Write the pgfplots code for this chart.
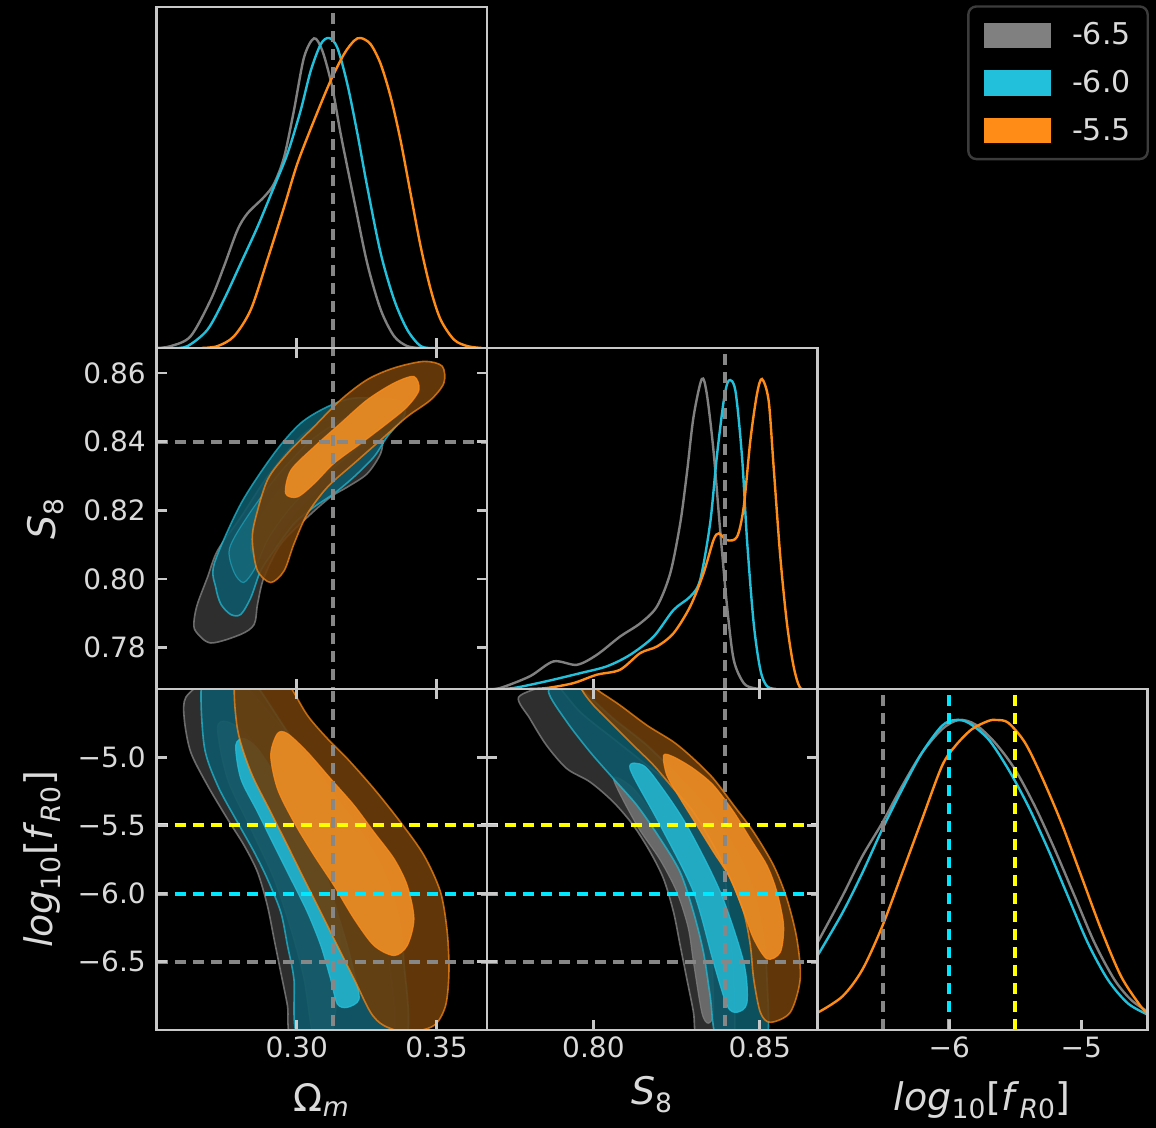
\documentclass[border=0pt]{standalone}
\usepackage{fontspec}
\setmainfont{DejaVu Sans}
\usepackage{pgfplots}
\pgfplotsset{compat=1.18}
\definecolor{cgray}{RGB}{128,128,128}
\definecolor{ccyan}{RGB}{34,192,218}
\definecolor{corange}{RGB}{255,140,22}
\definecolor{gOutF}{RGB}{52,52,52}
\definecolor{gInF}{RGB}{112,112,112}
\definecolor{cOutF}{RGB}{14,88,104}
\definecolor{cInF}{RGB}{36,180,206}
\definecolor{oOutF}{RGB}{108,62,12}
\definecolor{oInF}{RGB}{238,142,36}
\definecolor{framec}{RGB}{200,200,200}
\definecolor{lbl}{RGB}{218,218,218}
\definecolor{dcyan}{RGB}{0,232,255}
\definecolor{dyellow}{RGB}{255,255,0}
\definecolor{dgray}{RGB}{135,135,135}
\definecolor{legedge}{RGB}{60,60,60}

\pgfplotsset{
  corner/.style={
    scale only axis, width=165.1pt, height=170.5pt, anchor=south west,
    axis on top,
    axis line style={framec, line width=1.4pt},
    tick style={framec, line width=1.4pt},
    tick align=inside, major tick length=5pt,
    ticklabel style={font=\fontsize{14}{16}\selectfont, text=lbl},
    yticklabel style={xshift=-2pt},
    label style={font=\fontsize{19}{22}\selectfont, text=lbl},
  },
  oneD/.style={corner, ymin=0, ymax=1.1, ytick=\empty, xtick pos=left},
  omx/.style={xmin=0.25, xmax=0.368, xtick={0.30,0.35}},
  s8x/.style={xmin=0.768, xmax=0.8673, xtick={0.80,0.85}},
  s8y/.style={ymin=0.768, ymax=0.8673, ytick={0.78,0.80,0.82,0.84,0.86}},
  fry/.style={ymin=-7, ymax=-4.5, ytick={-6.5,-6,-5.5,-5}},
  frx/.style={xmin=-7, xmax=-4.5, xtick={-6,-5}},
  gOut/.style={smooth cycle, fill=gOutF, fill opacity=0.9, draw=cgray, draw opacity=0.8, line width=0.8pt},
  gIn/.style={smooth cycle, fill=gInF, fill opacity=0.9, draw=cgray, draw opacity=0.8, line width=0.6pt},
  cOut/.style={smooth cycle, fill=cOutF, fill opacity=0.9, draw=ccyan, draw opacity=0.7, line width=0.8pt},
  cIn/.style={smooth cycle, fill=cInF, fill opacity=0.9, draw=ccyan, draw opacity=0.8, line width=0.6pt},
  oOut/.style={smooth cycle, fill=oOutF, fill opacity=0.9, draw=corange, draw opacity=0.7, line width=0.8pt},
  oIn/.style={smooth cycle, fill=oInF, fill opacity=0.9, draw=corange, draw opacity=0.8, line width=0.6pt},
  dashl/.style={line width=2pt, dash pattern=on 5.5pt off 3.5pt},
  dens/.style={smooth, line width=1.2pt},
}

\begin{document}
\begin{tikzpicture}
\fill[black] (0,0) rectangle (578pt,564pt);

% ---------- P11 : Omega_m 1D ----------
\begin{axis}[corner, oneD, omx, xticklabels={}, at={(78.4pt,390pt)},
  legend style={at={(axis description cs:3.0045,1.005)}, anchor=north east,
    fill=black, draw=legedge, line width=1.2pt, rounded corners=4pt,
    text=lbl, font=\fontsize{15}{18}\selectfont,
    inner xsep=6.5pt, inner ysep=6pt, row sep=7.3pt,
    /tikz/every odd column/.append style={column sep=7.2pt}},
  legend cell align=left,
  legend image code/.code={\fill[#1, sharp corners] (0pt,-6.9pt) rectangle (35pt,6.9pt);}]
\addlegendimage{fill=cgray}\addlegendentry{-6.5}
\addlegendimage{fill=ccyan}\addlegendentry{-6.0}
\addlegendimage{fill=corange}\addlegendentry{-5.5}
\addplot[dens, cgray] coordinates {(0.2500,0.000) (0.2550,0.006) (0.2621,0.038) (0.2693,0.156) (0.2740,0.263) (0.2788,0.380) (0.2824,0.434) (0.2883,0.487) (0.2919,0.530) (0.2955,0.616) (0.2990,0.766) (0.3026,0.937) (0.3062,0.999) (0.3092,0.958) (0.3127,0.841) (0.3157,0.691) (0.3205,0.477) (0.3252,0.273) (0.3300,0.124) (0.3348,0.038) (0.3395,0.006) (0.3440,0.000)};
\addplot[dens, ccyan] coordinates {(0.2560,0.000) (0.2610,0.006) (0.2681,0.059) (0.2740,0.156) (0.2800,0.273) (0.2860,0.391) (0.2919,0.520) (0.2967,0.627) (0.3014,0.766) (0.3050,0.894) (0.3086,0.980) (0.3115,1.000) (0.3145,0.969) (0.3181,0.851) (0.3217,0.691) (0.3252,0.520) (0.3300,0.306) (0.3348,0.156) (0.3395,0.059) (0.3443,0.006) (0.3490,0.000)};
\addplot[dens, corange] coordinates {(0.2660,0.000) (0.2717,0.006) (0.2776,0.038) (0.2836,0.124) (0.2895,0.284) (0.2955,0.455) (0.3002,0.594) (0.3062,0.734) (0.3121,0.862) (0.3169,0.948) (0.3205,0.991) (0.3229,1.000) (0.3264,0.980) (0.3300,0.916) (0.3336,0.809) (0.3371,0.670) (0.3407,0.498) (0.3443,0.327) (0.3479,0.188) (0.3514,0.092) (0.3562,0.027) (0.3610,0.006) (0.3660,0.000)};
\addplot[dgray, dashl] coordinates {(0.3131,0) (0.3131,1.1)};
\end{axis}

% ---------- P21 : Omega_m vs S8 ----------
\begin{axis}[corner, omx, s8y, xticklabels={}, yticklabels={0.78,0.80,0.82,0.84,0.86},
  at={(78.4pt,219.5pt)},
  ylabel={\textit{S}\textsubscript{8}}, ylabel style={at={(axis description cs:-0.338,0.5)}, anchor=center}]
\addplot[gOut] coordinates {(0.2633,0.7878) (0.2645,0.7927) (0.2681,0.8005) (0.2717,0.8083) (0.2800,0.8180) (0.2895,0.8298) (0.3014,0.8415) (0.3110,0.8463) (0.3205,0.8454) (0.3276,0.8454) (0.3306,0.8415) (0.3300,0.8366) (0.3252,0.8307) (0.3181,0.8268) (0.3121,0.8239) (0.3038,0.8180) (0.2943,0.8102) (0.2883,0.8005) (0.2860,0.7927) (0.2848,0.7868) (0.2800,0.7839) (0.2693,0.7814) (0.2639,0.7848)};
\addplot[gIn] coordinates {(0.2836,0.8083) (0.2860,0.8161) (0.2919,0.8237) (0.3014,0.8330) (0.3110,0.8410) (0.3229,0.8440) (0.3260,0.8410) (0.3200,0.8340) (0.3110,0.8280) (0.3014,0.8210) (0.2940,0.8130) (0.2890,0.8060)};
\addplot[cOut] coordinates {(0.2705,0.8044) (0.2800,0.8219) (0.2919,0.8366) (0.3014,0.8454) (0.3110,0.8502) (0.3205,0.8527) (0.3348,0.8522) (0.3383,0.8502) (0.3383,0.8473) (0.3324,0.8415) (0.3276,0.8356) (0.3205,0.8298) (0.3133,0.8249) (0.3062,0.8210) (0.2990,0.8161) (0.2919,0.8083) (0.2871,0.8024) (0.2836,0.7946) (0.2800,0.7897) (0.2764,0.7897) (0.2729,0.7927) (0.2711,0.7975)};
\addplot[cIn, fill opacity=0.2, draw opacity=0.5] coordinates {(0.2776,0.8020) (0.2760,0.8090) (0.2830,0.8190) (0.2940,0.8310) (0.3060,0.8410) (0.3180,0.8470) (0.3280,0.8480) (0.3290,0.8440) (0.3200,0.8370) (0.3080,0.8290) (0.2980,0.8210) (0.2900,0.8120) (0.2850,0.8030) (0.2810,0.7990)};
\addplot[oOut] coordinates {(0.2848,0.8161) (0.2842,0.8102) (0.2860,0.8024) (0.2907,0.7990) (0.2955,0.8024) (0.2990,0.8102) (0.3038,0.8190) (0.3110,0.8268) (0.3205,0.8337) (0.3300,0.8405) (0.3395,0.8473) (0.3479,0.8522) (0.3526,0.8571) (0.3520,0.8620) (0.3455,0.8634) (0.3348,0.8615) (0.3252,0.8581) (0.3157,0.8522) (0.3062,0.8444) (0.2967,0.8366) (0.2895,0.8288)};
\addplot[oIn] coordinates {(0.2960,0.8250) (0.2979,0.8317) (0.3062,0.8385) (0.3157,0.8454) (0.3252,0.8522) (0.3348,0.8571) (0.3419,0.8590) (0.3437,0.8551) (0.3395,0.8502) (0.3324,0.8454) (0.3229,0.8395) (0.3133,0.8337) (0.3062,0.8278) (0.3002,0.8239)};
\addplot[dgray, dashl] coordinates {(0.3131,0.76) (0.3131,0.87)};
\addplot[dgray, dashl] coordinates {(0.25,0.84) (0.368,0.84)};
\end{axis}

% ---------- P22 : S8 1D ----------
\begin{axis}[corner, oneD, s8x, xticklabels={}, at={(243.5pt,219.5pt)}]
\addplot[dens, cgray] coordinates {(0.7680,0.000) (0.7719,0.003) (0.7809,0.041) (0.7880,0.089) (0.7950,0.078) (0.8010,0.110) (0.8080,0.169) (0.8141,0.212) (0.8191,0.266) (0.8231,0.373) (0.8261,0.534) (0.8281,0.695) (0.8301,0.877) (0.8326,1.000) (0.8341,0.952) (0.8361,0.770) (0.8382,0.502) (0.8402,0.266) (0.8422,0.094) (0.8452,0.019) (0.8482,0.003) (0.8510,0.000)};
\addplot[dens, ccyan] coordinates {(0.7700,0.000) (0.7759,0.003) (0.7859,0.025) (0.7960,0.051) (0.8040,0.073) (0.8110,0.110) (0.8181,0.169) (0.8241,0.255) (0.8291,0.298) (0.8321,0.352) (0.8351,0.534) (0.8371,0.748) (0.8392,0.930) (0.8407,0.995) (0.8427,0.962) (0.8447,0.748) (0.8462,0.480) (0.8482,0.212) (0.8502,0.062) (0.8522,0.009) (0.8550,0.000)};
\addplot[dens, corange] coordinates {(0.7800,0.000) (0.7859,0.003) (0.7940,0.019) (0.8010,0.046) (0.8080,0.062) (0.8141,0.116) (0.8191,0.137) (0.8241,0.180) (0.8291,0.266) (0.8331,0.373) (0.8361,0.480) (0.8377,0.502) (0.8402,0.480) (0.8432,0.491) (0.8452,0.587) (0.8472,0.802) (0.8492,0.952) (0.8507,1.000) (0.8527,0.930) (0.8542,0.716) (0.8562,0.427) (0.8582,0.212) (0.8602,0.073) (0.8622,0.003) (0.8650,0.000)};
\addplot[dgray, dashl] coordinates {(0.8397,0) (0.8397,1.1)};
\end{axis}

% ---------- P31 : Omega_m vs fR0 ----------
\begin{axis}[corner, omx, fry, xticklabels={0.30,0.35}, yticklabels={−6.5,−6.0,−5.5,−5.0},
  at={(78.4pt,49pt)},
  xlabel={Ω\textsubscript{\textit{m}}}, xlabel style={at={(axis description cs:0.5,-0.205)}, anchor=center},
  ylabel={\textit{log}\textsubscript{10}[\textit{f}\textsubscript{\textit{R}0}]}, ylabel style={at={(axis description cs:-0.347,0.5)}, anchor=center}]
\addplot[gOut] coordinates {(0.2680,-4.430) (0.2604,-4.560) (0.2598,-4.717) (0.2621,-4.962) (0.2681,-5.206) (0.2752,-5.451) (0.2812,-5.647) (0.2860,-5.843) (0.2895,-6.087) (0.2919,-6.332) (0.2943,-6.577) (0.2967,-6.822) (0.2985,-7.066) (0.3150,-7.150) (0.3342,-7.066) (0.3330,-6.503) (0.3312,-6.185) (0.3264,-5.843) (0.3181,-5.451) (0.3062,-5.059) (0.2919,-4.717) (0.2800,-4.448) (0.2740,-4.400)};
\addplot[gIn] coordinates {(0.2717,-4.790) (0.2752,-5.157) (0.2836,-5.524) (0.2919,-5.892) (0.2979,-6.259) (0.3026,-6.626) (0.3062,-7.066) (0.3121,-7.066) (0.3157,-6.503) (0.3145,-6.136) (0.3062,-5.696) (0.2955,-5.280) (0.2836,-4.864) (0.2752,-4.741)};
\addplot[cOut] coordinates {(0.2663,-4.423) (0.2669,-4.913) (0.2717,-5.206) (0.2788,-5.476) (0.2848,-5.696) (0.2895,-5.892) (0.2943,-6.136) (0.2967,-6.381) (0.2990,-6.626) (0.3008,-7.066) (0.3200,-7.150) (0.3389,-7.066) (0.3383,-6.503) (0.3360,-6.136) (0.3300,-5.794) (0.3205,-5.476) (0.3086,-5.157) (0.2967,-4.815) (0.2836,-4.423) (0.2750,-4.380)};
\addplot[cIn] coordinates {(0.2782,-4.913) (0.2800,-5.157) (0.2860,-5.402) (0.2919,-5.647) (0.2979,-5.892) (0.3038,-6.136) (0.3086,-6.381) (0.3121,-6.626) (0.3145,-6.809) (0.3181,-6.834) (0.3223,-6.773) (0.3205,-6.577) (0.3181,-6.381) (0.3145,-6.136) (0.3110,-5.892) (0.3062,-5.647) (0.3002,-5.402) (0.2931,-5.157) (0.2860,-4.937) (0.2812,-4.864)};
\addplot[oOut] coordinates {(0.2782,-4.423) (0.2788,-4.790) (0.2836,-5.108) (0.2907,-5.402) (0.2967,-5.647) (0.3026,-5.892) (0.3086,-6.136) (0.3145,-6.381) (0.3205,-6.626) (0.3264,-6.871) (0.3312,-6.968) (0.3395,-7.017) (0.3490,-6.968) (0.3532,-6.822) (0.3544,-6.577) (0.3538,-6.283) (0.3514,-5.989) (0.3455,-5.720) (0.3371,-5.476) (0.3276,-5.231) (0.3181,-5.011) (0.3110,-4.864) (0.3038,-4.692) (0.2955,-4.423) (0.2870,-4.380)};
\addplot[oIn] coordinates {(0.2931,-4.827) (0.2907,-4.986) (0.2931,-5.231) (0.2990,-5.476) (0.3062,-5.720) (0.3133,-5.941) (0.3205,-6.185) (0.3276,-6.381) (0.3348,-6.454) (0.3395,-6.381) (0.3419,-6.185) (0.3395,-5.941) (0.3348,-5.745) (0.3276,-5.549) (0.3205,-5.353) (0.3121,-5.157) (0.3038,-4.962) (0.2967,-4.827)};
\addplot[dgray, dashl] coordinates {(0.3131,-7.1) (0.3131,-4.4)};
\addplot[dyellow, dashl] coordinates {(0.25,-5.5) (0.368,-5.5)};
\addplot[dcyan, dashl] coordinates {(0.25,-6.0) (0.368,-6.0)};
\addplot[dgray, dashl] coordinates {(0.25,-6.5) (0.368,-6.5)};
\end{axis}

% ---------- P32 : S8 vs fR0 ----------
\begin{axis}[corner, s8x, fry, xticklabels={0.80,0.85}, yticklabels={}, at={(243.5pt,49pt)},
  xlabel={\textit{S}\textsubscript{8}}, xlabel style={at={(axis description cs:0.5,-0.19)}, anchor=center}]
\addplot[gOut] coordinates {(0.7859,-4.472) (0.7775,-4.560) (0.7809,-4.717) (0.7859,-4.913) (0.7920,-5.084) (0.7990,-5.182) (0.8060,-5.329) (0.8120,-5.500) (0.8171,-5.696) (0.8211,-5.892) (0.8241,-6.136) (0.8261,-6.381) (0.8281,-6.626) (0.8301,-6.871) (0.8311,-7.066) (0.8370,-7.150) (0.8422,-7.066) (0.8422,-6.626) (0.8412,-6.283) (0.8402,-5.989) (0.8382,-5.745) (0.8341,-5.500) (0.8261,-5.255) (0.8161,-5.059) (0.8060,-4.864) (0.7960,-4.668) (0.7880,-4.440)};
\addplot[gIn] coordinates {(0.8060,-5.157) (0.8131,-5.500) (0.8200,-5.750) (0.8251,-5.989) (0.8285,-6.250) (0.8301,-6.503) (0.8326,-6.871) (0.8345,-6.950) (0.8361,-6.871) (0.8356,-6.503) (0.8335,-6.250) (0.8306,-5.989) (0.8260,-5.750) (0.8201,-5.500) (0.8120,-5.230)};
\addplot[cOut] coordinates {(0.7865,-4.520) (0.7920,-4.741) (0.7990,-4.962) (0.8060,-5.157) (0.8131,-5.353) (0.8201,-5.598) (0.8261,-5.843) (0.8301,-6.136) (0.8331,-6.430) (0.8351,-6.748) (0.8371,-7.066) (0.8450,-7.150) (0.8522,-7.066) (0.8522,-6.626) (0.8512,-6.332) (0.8482,-5.989) (0.8432,-5.696) (0.8351,-5.402) (0.8261,-5.157) (0.8161,-4.913) (0.8060,-4.717) (0.7960,-4.497) (0.7910,-4.440)};
\addplot[cIn] coordinates {(0.8110,-5.084) (0.8201,-5.500) (0.8301,-5.989) (0.8361,-6.503) (0.8402,-6.822) (0.8432,-6.870) (0.8462,-6.800) (0.8452,-6.503) (0.8382,-5.989) (0.8281,-5.500) (0.8201,-5.206) (0.8150,-5.060)};
\addplot[oOut] coordinates {(0.7965,-4.500) (0.8000,-4.619) (0.8060,-4.766) (0.8120,-4.913) (0.8181,-5.059) (0.8241,-5.231) (0.8301,-5.402) (0.8361,-5.647) (0.8412,-5.892) (0.8452,-6.136) (0.8472,-6.381) (0.8482,-6.626) (0.8502,-6.871) (0.8532,-6.944) (0.8592,-6.871) (0.8622,-6.626) (0.8612,-6.332) (0.8582,-6.038) (0.8542,-5.794) (0.8482,-5.549) (0.8422,-5.353) (0.8361,-5.157) (0.8301,-5.011) (0.8241,-4.888) (0.8161,-4.766) (0.8080,-4.619) (0.8020,-4.521) (0.7990,-4.470)};
\addplot[oIn] coordinates {(0.8211,-4.986) (0.8221,-5.133) (0.8261,-5.304) (0.8311,-5.500) (0.8361,-5.696) (0.8412,-5.892) (0.8452,-6.136) (0.8482,-6.332) (0.8522,-6.479) (0.8562,-6.430) (0.8572,-6.234) (0.8552,-5.989) (0.8522,-5.794) (0.8472,-5.598) (0.8422,-5.402) (0.8361,-5.206) (0.8301,-5.084) (0.8241,-4.998)};
\addplot[dgray, dashl] coordinates {(0.8397,-7.1) (0.8397,-4.4)};
\addplot[dyellow, dashl] coordinates {(0.768,-5.5) (0.8673,-5.5)};
\addplot[dcyan, dashl] coordinates {(0.768,-6.0) (0.8673,-6.0)};
\addplot[dgray, dashl] coordinates {(0.768,-6.5) (0.8673,-6.5)};
\end{axis}

% ---------- P33 : fR0 1D ----------
\begin{axis}[corner, oneD, frx, xticklabels={−6,−5}, at={(408.6pt,49pt)},
  xlabel={\textit{log}\textsubscript{10}[\textit{f}\textsubscript{\textit{R}0}]}, xlabel style={at={(axis description cs:0.5,-0.205)}, anchor=center}]
\addplot[dens, cgray] coordinates {(-7.0,0.280) (-6.810,0.431) (-6.659,0.560) (-6.508,0.668) (-6.357,0.787) (-6.207,0.894) (-6.056,0.970) (-5.930,1.000) (-5.804,0.986) (-5.654,0.927) (-5.503,0.841) (-5.352,0.722) (-5.201,0.582) (-5.050,0.431) (-4.899,0.280) (-4.749,0.162) (-4.623,0.097) (-4.500,0.060)};
\addplot[dens, ccyan] coordinates {(-7.0,0.238) (-6.810,0.377) (-6.659,0.506) (-6.508,0.647) (-6.357,0.776) (-6.207,0.894) (-6.056,0.981) (-5.955,1.000) (-5.855,0.991) (-5.704,0.938) (-5.553,0.841) (-5.402,0.722) (-5.251,0.582) (-5.101,0.431) (-4.950,0.280) (-4.799,0.162) (-4.648,0.086) (-4.500,0.050)};
\addplot[dens, corange] coordinates {(-7.0,0.055) (-6.810,0.108) (-6.659,0.194) (-6.508,0.334) (-6.357,0.506) (-6.207,0.679) (-6.056,0.851) (-5.955,0.916) (-5.830,0.970) (-5.704,0.997) (-5.641,1.000) (-5.553,0.991) (-5.427,0.927) (-5.302,0.819) (-5.151,0.668) (-5.000,0.496) (-4.849,0.323) (-4.698,0.172) (-4.548,0.075) (-4.500,0.055)};
\addplot[dgray, dashl] coordinates {(-6.5,0) (-6.5,1.1)};
\addplot[dcyan, dashl] coordinates {(-6.0,0) (-6.0,1.1)};
\addplot[dyellow, dashl] coordinates {(-5.5,0) (-5.5,1.1)};
\end{axis}

\pgfresetboundingbox
\useasboundingbox (0,0) rectangle (578pt,564pt);
\end{tikzpicture}
\end{document}
